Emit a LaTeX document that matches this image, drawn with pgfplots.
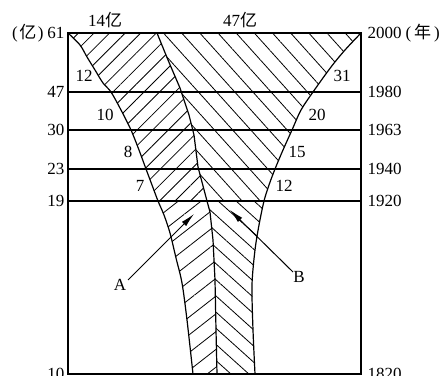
\documentclass[border=0pt]{standalone}
\usepackage{fontspec}
\setmainfont{Liberation Serif}
\newfontfamily\cjk{Noto Sans CJK SC}
\usepackage{pgfplots}
\pgfplotsset{compat=1.18}
\usepgfplotslibrary{fillbetween}
\usetikzlibrary{patterns.meta,arrows.meta}
\newcommand\fs{\fontsize{17bp}{20bp}\selectfont}

\begin{document}
\begin{tikzpicture}[font=\fs]
\pgfplotsset{frame/.style={scale only axis, width=293bp, height=341bp,
  xmin=68, xmax=361, ymin=2, ymax=343, clip=false,
  major tick length=0pt, tick label style={font=\fs},
  ytick={2,175,207,246,284,343}}}
\begin{axis}[frame,
  axis line style={line width=1.2bp},
  xtick=\empty,
  yticklabels={10,19,23,30,47,{(\kern1.5bp{\cjk 亿}\kern1.5bp)\kern4bp 61}},
  ymajorgrids, grid style={black,line width=1.1bp},
]
% outer left curve (A), top and bottom parts
\addplot[name path=LT, draw=none] coordinates {(68,343) (80,331) (87,319) (95,306) (103,293) (111,284) (121,266) (131,246) (139,226) (146,207) (152,191) (158,175)};
\addplot[name path=LB, draw=none] coordinates {(158,175) (164,161) (170,143) (176,118) (182,93) (187,56) (193,2)};
% middle line between A and B
\addplot[name path=MT, draw=none] coordinates {(157,343) (168,316) (180,288) (189,261) (194,241) (198,209) (207,175)};
\addplot[name path=MB, draw=none] coordinates {(207,175) (210,164) (213,136) (215,96) (216,46) (217,2)};
% outer right curve (B)
\addplot[name path=RT, draw=none] coordinates {(361,343) (345,326) (331,309) (313,284) (301,266) (292,246) (283,226) (275,207) (269,191) (264,175)};
\addplot[name path=RB, draw=none] coordinates {(264,175) (259,151) (255,126) (252,91) (253,46) (255,2)};

\addplot[draw=none, pattern={Lines[angle=45,distance=11bp,line width=0.8bp]}] fill between[of=LT and MT, reverse=true];
\addplot[draw=none, pattern={Lines[angle=38,distance=14bp,line width=0.8bp]}] fill between[of=LB and MB, reverse=true];
\addplot[draw=none, pattern={Lines[angle=-48,distance=13.5bp,line width=0.8bp]}] fill between[of=MT and RT, reverse=true];
\addplot[draw=none, pattern={Lines[angle=-42,distance=12bp,line width=0.8bp]}] fill between[of=MB and RB, reverse=true];

\addplot[black, line width=1.2bp, smooth] coordinates {(68,343) (80,331) (87,319) (95,306) (103,293) (111,284) (121,266) (131,246) (139,226) (146,207) (152,191) (158,175) (164,161) (170,143) (176,118) (182,93) (187,56) (193,2)};
\addplot[black, line width=1.2bp] coordinates {(157,343) (168,316) (180,288) (189,261) (194,241) (198,209) (207,175) (210,164) (213,136) (215,96) (216,46) (217,2)};
\addplot[black, line width=1.2bp, smooth] coordinates {(361,343) (345,326) (331,309) (313,284) (301,266) (292,246) (283,226) (275,207) (269,191) (264,175) (259,151) (255,126) (252,91) (253,46) (255,2)};

\node at (axis cs:105,356) {14{\cjk 亿}};
\node at (axis cs:240,356) {47{\cjk 亿}};
\node at (axis cs:84,300) {12};
\node at (axis cs:105,261) {10};
\node at (axis cs:128,224) {8};
\node at (axis cs:140,190) {7};
\node at (axis cs:342,300) {31};
\node at (axis cs:317,261) {20};
\node at (axis cs:297,224) {15};
\node at (axis cs:284,190) {12};

\draw[line width=1bp, -{Latex[length=14bp,width=6bp]}] (axis cs:128,96) -- (axis cs:194,162);
\draw[line width=1bp, -{Latex[length=14bp,width=6bp]}] (axis cs:293,104) -- (axis cs:230,166);
\node at (axis cs:120,91) {A};
\node at (axis cs:299,99) {B};

\coordinate (BL) at (axis cs:0,0);
\coordinate (TR) at (axis cs:448,376);
\end{axis}
\begin{axis}[frame,
  axis x line=none, axis y line*=right,
  axis line style={draw=none},
  yticklabel style={xshift=3bp},
  yticklabels={1820,1920,1940,1963,1980,{2000\kern4bp(\kern3bp{\cjk 年}\kern3bp)}},
]
\end{axis}
\pgfresetboundingbox
\path (BL) rectangle (TR);
\end{tikzpicture}
\end{document}
